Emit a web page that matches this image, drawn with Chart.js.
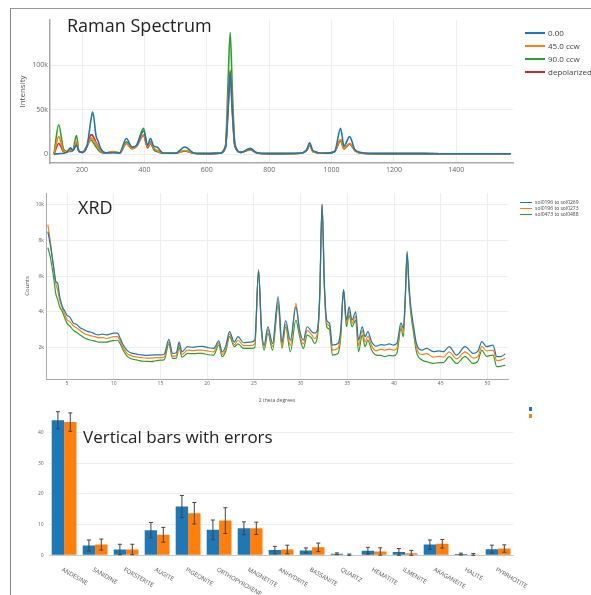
<!DOCTYPE html>
<html>
<head>
<meta charset="utf-8">
<script src="https://cdn.jsdelivr.net/npm/chart.js@4.4.0/dist/chart.umd.min.js"></script>
<style>
  body { margin: 0; background: #fff; overflow: hidden; font-family: "Open Sans", sans-serif; }
  #page { position: relative; width: 591px; height: 595px; }
  #frame { position: absolute; left: 10px; top: 8px; right: 0; bottom: 0; border-top: 1px solid #999; border-left: 1px solid #888; }
  canvas { position: absolute; left: 0; }
  .title { position: absolute; font-size: 18px; line-height: 18px; color: #222; white-space: nowrap; }
  .legend { position: absolute; color: #444; white-space: nowrap; }
  .legend div { position: relative; }
  .legend span.ln { position: absolute; left: 0; }
</style>
</head>
<body>
<div id="page">
  <div id="frame"></div>
  <canvas id="raman" width="591" height="182" style="top:0"></canvas>
  <canvas id="xrd" width="591" height="228" style="top:180px"></canvas>
  <canvas id="bars" width="591" height="195" style="top:400px"></canvas>

  <div class="title" style="left:67px; top:16px">Raman Spectrum</div>
  <div class="title" style="left:78px; top:198px">XRD</div>
  <div class="title" style="left:83px; top:428px; font-size:17px">Vertical bars with errors</div>

  <div id="ramanLegend" class="legend" style="left:525px; top:26px; font-size:8px"></div>
  <div id="xrdLegend" class="legend" style="left:520px; top:199px; font-size:5px"></div>
  <div id="barLegend" class="legend" style="left:529px; top:407px"></div>
</div>

<script>
// Raman spectrum
const ramanShift = [110,125,140,150,163,170,182,190,200,215,229,234,245,251,260,275,300,320,342,360,375,397,410,419,430,440,460,500,529,560,600,640,660,668,675,682,690,710,739,760,800,900,920,930,940,980,1010,1029,1040,1058,1075,1100,1150,1200,1300,1400,1500,1575];
const raman000 = [0,500,1000,2000,7000,4000,10000,3000,2000,8000,40000,47500,20000,15000,6000,1500,1500,1500,17500,8000,10000,26000,10000,17500,9000,8000,1000,1000,8000,1000,500,1000,8000,50000,93000,50000,10000,2000,6000,1500,500,1000,5000,12800,4000,1000,3000,29000,9000,19700,5000,1500,500,500,500,400,400,400];
const raman450 = [0,20000,4000,3000,4000,4000,14000,3000,2000,8000,18000,17000,12000,8000,3000,1500,2500,1500,12000,6000,9000,22000,8000,13000,7000,4000,1000,1000,4000,1000,500,1000,8000,60000,95000,55000,10000,2000,5000,1500,500,1000,4000,10000,3000,1000,3000,16000,6000,12000,4000,1000,500,500,500,400,400,400];
const raman900 = [0,33000,6000,3000,3000,4000,21000,3000,2000,9000,16000,14000,8000,5000,2000,1000,3000,1000,14000,7000,10000,29000,9000,14000,5000,3000,1000,1000,3500,1000,500,1000,10000,80000,137000,70000,12000,2000,6500,1500,500,1000,4000,10000,3000,1000,3000,16000,6000,12000,4000,1000,500,500,500,400,400,400];
const ramanDepol = [0,12000,3000,2000,4500,4000,12000,3000,2000,8000,22000,21000,13000,9000,4000,1000,2000,1000,12000,6000,9000,21000,7000,12000,6000,4000,1000,1000,3500,1000,500,1000,8000,48000,89000,45000,9000,2000,5000,1500,500,1000,4000,10000,3000,1000,3000,15000,6000,11400,4000,1000,500,500,500,400,400,400];
const ramanNames = ['0.00', '45.0 ccw', '90.0 ccw', 'depolarized'];
const ramanXTicks = [200, 400, 600, 800, 1000, 1200, 1400];
const ramanYTicks = [0, 50000, 100000];

// XRD
const xrdTheta = [2.95,3.2,3.4,3.6,3.8,4.0,4.2,4.5,4.8,5.0,5.3,5.7,6.0,6.4,6.8,7.2,7.6,8.0,8.4,8.8,9.2,9.6,10.0,10.4,10.7,11.0,11.4,11.8,12.2,12.6,13.0,13.5,14.0,14.5,15.0,15.4,15.9,16.3,16.7,17.0,17.3,17.9,18.5,19.0,19.5,20.0,20.7,21.25,21.6,22.0,22.4,22.9,23.3,23.9,24.6,25.1,25.5,25.8,26.1,26.5,27.0,27.6,28.0,28.4,28.9,29.5,29.9,30.3,30.7,31.2,31.5,31.8,32.05,32.3,32.55,32.8,33.1,33.4,34.0,34.3,34.6,34.9,35.2,35.5,35.9,36.2,36.6,36.9,37.2,37.6,38.1,38.6,39.0,39.5,39.9,40.3,40.75,41.0,41.2,41.4,41.6,41.8,42.1,42.4,43.0,43.5,44.2,44.8,45.3,45.9,46.7,47.6,48.5,49.0,49.4,49.9,50.6,51.0,51.5,51.9];
const xrd0269 = [8500,7800,7100,6400,5700,5600,4900,4300,4000,3800,
  3700,3350,3300,3100,3000,2900,2850,2750,2700,2750,
  2700,2750,2800,2800,2500,2150,1850,1700,1650,1600,
  1580,1550,1570,1580,1580,1620,2450,1660,1700,2300,
  1750,2040,2000,2050,2060,2000,1940,2370,1750,2100,
  2880,2300,2600,2260,2300,2400,6300,3200,2130,3160,
  2220,4840,2300,3500,2400,4280,2970,2410,3160,2880,
  2800,2970,5000,10000,5500,3530,3350,2130,2220,3000,
  5250,3530,4280,3530,4000,2410,3160,2600,2880,2320,
  2070,2150,2130,2200,2130,2220,3380,3070,4800,7400,
  5500,4280,3160,2220,1850,1940,1760,1800,1760,2040,
  1570,2040,1660,1800,2320,2040,2130,1480,1500,1630];
const xrd0273 = [8900,8000,7200,6300,5600,5200,4700,4200,3800,3550,
  3450,3200,3100,2950,2800,2700,2650,2600,2550,2550,
  2500,2550,2600,2600,2350,2000,1680,1550,1480,1450,
  1420,1400,1400,1420,1430,1460,2300,1500,1550,2150,
  1600,1850,1820,1850,1850,1800,1750,2250,1600,1950,
  2750,2150,2400,2100,2100,2200,6330,3100,2000,3000,
  2050,4600,2100,3300,2100,4470,2800,2200,2950,2700,
  2500,2800,4900,10020,5400,3350,3200,1850,1950,2800,
  5220,3350,4050,3350,3750,2100,2950,2300,2650,2100,
  1800,1900,1850,1900,1850,1950,3200,2850,4700,7300,
  5400,4100,3000,2000,1600,1650,1450,1500,1450,1750,
  1350,1750,1400,1500,2050,1800,1850,1250,1300,1400];
const xrd0488 = [7600,7100,6500,5800,5000,4700,4300,4000,3600,3350,
  3200,2950,2850,2700,2550,2450,2400,2350,2300,2300,
  2300,2350,2380,2400,2200,1850,1520,1380,1320,1280,
  1230,1220,1200,1250,1280,1300,2200,1380,1400,2000,
  1450,1660,1650,1660,1660,1600,1570,2130,1480,1800,
  2600,2040,2200,1940,1940,2000,6370,3000,1850,2800,
  1850,4370,1940,3160,1750,3530,2600,1940,2690,2500,
  2220,2600,4800,10040,5300,3160,3000,1570,1660,2600,
  5200,3160,3810,3160,3530,1750,2690,2040,2410,1850,
  1570,1550,1480,1550,1520,1660,3070,2600,4600,7180,
  5300,3900,2790,1750,1290,1200,1100,1150,1150,1480,
  1100,1480,1100,1250,1850,1500,1570,920,950,1000];
const xrdNames = ['sol0196 to sol0269', 'sol0196 to sol0273', 'sol0473 to sol0488'];
const xrdXTicks = [5, 10, 15, 20, 25, 30, 35, 40, 45, 50];
const xrdYTicks = [2000, 4000, 6000, 8000, 10000];

// mineral abundances
const minerals = ['ANDESINE','SANIDINE','FORSTERITE','AUGITE','PIGEONITE','ORTHOPYROXENE','MAGNETITE','ANHYDRITE','BASSANITE','QUARTZ','HEMATITE','ILMENITE','AKAGANEITE','HALITE','PYRRHOTITE'];
const blueVals = [44,3.2,1.9,8.2,15.9,8.3,8.8,1.7,1.6,0.5,1.5,1.1,3.5,0.4,2.0];
const blueErr  = [2.8,1.8,1.7,2.5,3.6,3.2,2.1,1.2,0.8,0.3,1.1,1.1,1.5,0.3,1.3];
const orangeVals = [43.4,3.5,1.9,6.7,13.7,11.3,8.8,1.9,2.6,0.2,1.25,0.7,3.75,0.3,2.2];
const orangeErr  = [3.0,1.8,1.7,2.4,3.5,4.2,2.0,1.4,1.4,0.2,1.2,0.9,1.4,0.3,1.2];
const barYTicks = [0, 10, 20, 30, 40];

const colors = ['#1f77b4', '#ff7f0e', '#2ca02c', '#d62728'];
const tickColor = '#666';
const gridColor = '#eeeeee';

function fixTicks(list) {
  return scale => { scale.ticks = list.map(v => ({ value: v })); };
}
function pts(xs, ys) {
  return xs.map((x, i) => ({ x: x, y: ys[i] }));
}
function lineSet(label, xs, ys, color, width) {
  return {
    label: label, data: pts(xs, ys), borderColor: color, backgroundColor: color,
    borderWidth: width, pointRadius: 0, cubicInterpolationMode: 'monotone', fill: false
  };
}
function kFmt(v) { return v === 0 ? '0' : (v / 1000) + 'k'; }
function plain(v) { return String(v); }

// html legend: rowH px per row, line sample lineW x lineH
function addLegend(id, names, lineW, lineH, rowH) {
  const box = document.getElementById(id);
  names.forEach((n, i) => {
    const row = document.createElement('div');
    row.style.height = rowH + 'px';
    row.style.lineHeight = rowH + 'px';
    row.style.paddingLeft = (lineW + 3) + 'px';
    const top = Math.round((rowH - lineH) / 2);
    row.innerHTML = '<span class="ln" style="width:' + lineW + 'px;height:' + lineH +
      'px;top:' + top + 'px;background:' + colors[i] + '"></span>' + n;
    box.appendChild(row);
  });
}

Chart.defaults.font.family = '"Open Sans", sans-serif';
Chart.defaults.animation = false;

// ---- Raman ----
new Chart(document.getElementById('raman'), {
  type: 'line',
  data: {
    datasets: [
      lineSet(ramanNames[0], ramanShift, raman000, colors[0], 1.6),
      lineSet(ramanNames[1], ramanShift, raman450, colors[1], 1.6),
      lineSet(ramanNames[2], ramanShift, raman900, colors[2], 1.6),
      lineSet(ramanNames[3], ramanShift, ramanDepol, colors[3], 1.6)
    ]
  },
  options: {
    responsive: false,
    layout: { padding: { top: 20, right: 78, left: 0, bottom: 0 } },
    plugins: { legend: { display: false }, tooltip: { enabled: false } },
    scales: {
      x: {
        type: 'linear', min: 97, max: 1582,
        afterBuildTicks: fixTicks(ramanXTicks),
        afterFit: s => { s.height = 19; },
        grid: { color: gridColor, drawTicks: false },
        border: { display: true, color: '#aaa', width: 1.5 },
        ticks: { color: tickColor, font: { size: 7 }, padding: 3, callback: plain }
      },
      y: {
        min: -10000, max: 151000,
        afterBuildTicks: fixTicks(ramanYTicks),
        afterFit: s => { s.width = 50; },
        grid: { color: gridColor, drawTicks: false },
        border: { display: true, color: '#aaa', width: 1.5 },
        ticks: { color: tickColor, font: { size: 7 }, padding: 2, callback: kFmt },
        title: { display: true, text: 'Intensity', color: '#555', font: { size: 8 }, padding: { top: 18, bottom: 0 } }
      }
    }
  }
});
addLegend('ramanLegend', ramanNames, 20, 2, 13);

// ---- XRD ----
new Chart(document.getElementById('xrd'), {
  type: 'line',
  data: {
    datasets: [
      lineSet(xrdNames[0], xrdTheta, xrd0269, colors[0], 1.2),
      lineSet(xrdNames[1], xrdTheta, xrd0273, colors[1], 1.2),
      lineSet(xrdNames[2], xrdTheta, xrd0488, colors[2], 1.2)
    ]
  },
  options: {
    responsive: false,
    layout: { padding: { top: 13, right: 83, left: 0, bottom: 0 } },
    plugins: { legend: { display: false }, tooltip: { enabled: false } },
    scales: {
      x: {
        type: 'linear', min: 2.75, max: 52.2,
        afterBuildTicks: fixTicks(xrdXTicks),
        afterFit: s => { s.height = 29; },
        grid: { color: gridColor, drawTicks: false },
        border: { display: true, color: '#aaa', width: 1 },
        ticks: { color: tickColor, font: { size: 5 }, padding: 2, callback: plain },
        title: { display: true, text: '2 theta degrees', color: '#555', font: { size: 5 }, padding: { top: 0, bottom: 4 } }
      },
      y: {
        min: 225, max: 10670,
        afterBuildTicks: fixTicks(xrdYTicks),
        afterFit: s => { s.width = 46; },
        grid: { color: gridColor, drawTicks: false },
        border: { display: true, color: '#aaa', width: 1 },
        ticks: { color: tickColor, font: { size: 5 }, padding: 2, callback: kFmt },
        title: { display: true, text: 'Counts', color: '#555', font: { size: 6 }, padding: { top: 24, bottom: 0 } }
      }
    }
  }
});
addLegend('xrdLegend', xrdNames, 12, 1, 6);

// ---- bars with error bars ----
const errorBars = {
  id: 'errorBars',
  afterDatasetsDraw(chart) {
    const ctx = chart.ctx, y = chart.scales.y;
    ctx.save();
    ctx.strokeStyle = '#444';
    ctx.lineWidth = 1;
    chart.data.datasets.forEach((ds, i) => {
      chart.getDatasetMeta(i).data.forEach((bar, j) => {
        const v = ds.data[j], e = ds.errors[j];
        const top = y.getPixelForValue(v + e);
        const bot = y.getPixelForValue(Math.max(v - e, 0));
        ctx.beginPath();
        ctx.moveTo(bar.x, top); ctx.lineTo(bar.x, bot);
        ctx.moveTo(bar.x - 2, top); ctx.lineTo(bar.x + 2, top);
        ctx.moveTo(bar.x - 2, bot); ctx.lineTo(bar.x + 2, bot);
        ctx.stroke();
      });
    });
    ctx.restore();
  }
};

const slantLabels = {
  id: 'slantLabels',
  afterDraw(chart) {
    const ctx = chart.ctx, x = chart.scales.x;
    ctx.save();
    ctx.font = '6px "Open Sans", sans-serif';
    ctx.fillStyle = '#555';
    ctx.textBaseline = 'middle';
    ctx.textAlign = 'left';
    chart.data.labels.forEach((name, i) => {
      const px = x.getPixelForTick(i);
      ctx.save();
      ctx.translate(px - 2, x.top + 14);
      ctx.rotate(Math.PI / 6);
      ctx.fillText(name, 0, 0);
      ctx.restore();
    });
    ctx.restore();
  }
};

new Chart(document.getElementById('bars'), {
  type: 'bar',
  data: {
    labels: minerals,
    datasets: [
      { label: 'blue', data: blueVals, errors: blueErr, backgroundColor: colors[0], categoryPercentage: 0.8, barPercentage: 1.0 },
      { label: 'orange', data: orangeVals, errors: orangeErr, backgroundColor: colors[1], categoryPercentage: 0.8, barPercentage: 1.0 }
    ]
  },
  options: {
    responsive: false,
    layout: { padding: { top: 4, right: 77.4, left: 0, bottom: 0 } },
    plugins: { legend: { display: false }, tooltip: { enabled: false } },
    scales: {
      x: {
        afterFit: s => { s.height = 39.7; },
        grid: { display: false },
        border: { display: false },
        ticks: { display: false }
      },
      y: {
        min: 0, max: 48,
        afterBuildTicks: fixTicks(barYTicks),
        afterFit: s => { s.width = 48.6; },
        grid: { color: c => c.tick.value === 0 ? '#c8c8c8' : gridColor, drawTicks: false },
        border: { display: false },
        ticks: { color: tickColor, font: { size: 5 }, padding: 5 }
      }
    }
  },
  plugins: [errorBars, slantLabels]
});

const barLegend = document.getElementById('barLegend');
barLegend.innerHTML =
  '<div style="width:3px;height:4px;background:' + colors[0] + ';margin-bottom:3px"></div>' +
  '<div style="width:3px;height:4px;background:' + colors[1] + '"></div>';
</script>
</body>
</html>
